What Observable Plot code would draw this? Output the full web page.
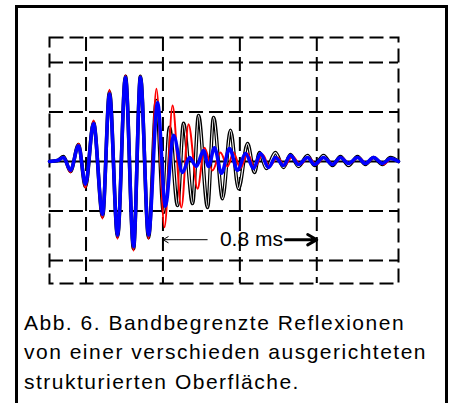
<!DOCTYPE html>
<html><head><meta charset="utf-8">
<script src="https://cdn.jsdelivr.net/npm/d3@7"></script>
<script src="https://cdn.jsdelivr.net/npm/@observablehq/plot@0.6"></script>
<style>
html,body{margin:0;padding:0;background:#fff;width:454px;height:403px;overflow:hidden;position:relative;font-family:"Liberation Sans",Arial,sans-serif;}
#frame{position:absolute;left:15px;top:5px;width:427px;height:430px;border:3px solid #000;border-bottom:none;}
#chart{position:absolute;left:0;top:0;}
#caption{position:absolute;left:24px;top:307.5px;font-size:21px;line-height:29.5px;letter-spacing:1.5px;color:#000;white-space:nowrap;}
</style></head><body>
<div id="frame"></div>
<div id="chart"></div>
<div id="caption">Abb. 6. Bandbegrenzte Reflexionen<br>von einer verschieden ausgerichteten<br>strukturierten Oberfläche.</div>
<script>
// time in ms, amplitude in grid divisions
const blueT=[0,0.042,0.073,0.109,0.151,0.187,0.229,0.276,0.312,0.354,0.395,0.437,0.473,0.515,0.562,0.603,0.645,0.692,0.728,0.764,0.801,0.827,0.858,0.894,0.936,0.978,1.019,1.061,1.097,1.139,1.175,1.217,1.253,1.295,1.342,1.378,1.425,1.472,1.513,1.555,1.602,1.643,1.685,1.732,1.773,1.815];
const blueV=[0,0.02,0.08,-0.18,0.32,-0.46,0.77,-1.07,1.37,-1.49,1.7,-1.72,1.7,-1.49,1.19,-0.91,0.53,-0.22,0.08,-0.1,0.22,-0.1,0.28,-0.24,0.26,-0.18,0.16,-0.14,0.16,-0.12,0.08,-0.08,0.12,-0.06,0.08,-0.06,0.08,-0.06,0.08,-0.04,0.08,-0.04,0.08,-0.04,0.06,0];
const redT=[0,0.042,0.073,0.109,0.151,0.187,0.229,0.276,0.312,0.354,0.395,0.437,0.473,0.515,0.556,0.598,0.64,0.686,0.723,0.77,0.806,0.848,0.889,0.926,0.957,0.993,1.03,1.066,1.108,1.144,1.186,1.222,1.264,1.305,1.347,1.388,1.43,1.477,1.518,1.56,1.607,1.648,1.69,1.737,1.778,1.815];
const redV=[0,0.02,0.08,-0.22,0.36,-0.53,0.83,-1.15,1.45,-1.56,1.74,-1.8,1.72,-1.56,1.47,-1.33,1.13,-0.93,0.75,-0.55,0.28,-0.18,0.18,-0.1,0.18,-0.14,0.16,-0.12,0.14,-0.1,0.08,-0.08,0.1,-0.06,0.08,-0.06,0.08,-0.06,0.08,-0.04,0.08,-0.04,0.08,-0.06,0.06,0];
const blackT=[0,0.042,0.073,0.109,0.151,0.187,0.229,0.276,0.312,0.354,0.395,0.437,0.473,0.515,0.556,0.593,0.624,0.666,0.697,0.744,0.775,0.822,0.853,0.9,0.941,0.983,1.03,1.066,1.092,1.128,1.175,1.217,1.253,1.295,1.342,1.378,1.425,1.472,1.513,1.555,1.602,1.643,1.685,1.732,1.773,1.815];
const blackV=[0,0.02,0.1,-0.2,0.34,-0.51,0.79,-1.11,1.41,-1.52,1.72,-1.76,1.72,-1.54,1.23,-1.03,0.69,-0.89,0.77,-0.85,0.93,-0.93,0.89,-0.75,0.63,-0.55,0.36,-0.22,0.18,-0.14,0.18,-0.12,0.14,-0.1,0.12,-0.08,0.12,-0.08,0.1,-0.08,0.1,-0.06,0.08,-0.06,0.08,0];
const gridX=[0.19,0.59,0.99,1.39];
const gridY=[-2,-1,1,2];
const xDomain=[0,1.815];
const yDomain=[-2.465,2.505];
// annotation: 0.8 ms span
const spanStart=0.59, spanEnd=1.39, spanLevel=-1.58;
const leftShaftEnd=0.82, rightShaftStart=1.227, labelX=1.05;
const label="0.8 ms";

const toRows=(T,V)=>T.map((t,i)=>({t,v:V[i]}));
const black=toRows(blackT,blackV), red=toRows(redT,redV), blue=toRows(blueT,blueV);
const dash="14,6";
const chart=Plot.plot({
  width:454,height:300,
  marginLeft:49,marginRight:56,marginTop:37,marginBottom:17,
  style:{background:"transparent",fontFamily:"Liberation Sans, Arial, sans-serif"},
  x:{domain:xDomain,axis:null},
  y:{domain:yDomain,axis:null},
  marks:[
    Plot.ruleX(gridX,{stroke:"#000",strokeWidth:2,strokeDasharray:dash}),
    Plot.ruleY(gridY,{stroke:"#000",strokeWidth:2,strokeDasharray:dash}),
    Plot.frame({stroke:"#000",strokeWidth:2,strokeDasharray:dash}),
    Plot.ruleY([0],{stroke:"#000",strokeWidth:2}),
    Plot.line(black,{x:"t",y:"v",stroke:"#000",strokeWidth:3.6,curve:"monotone-x"}),
    Plot.line(black,{x:"t",y:"v",stroke:"#fff",strokeWidth:1.2,curve:"monotone-x"}),
    Plot.line(red,{x:"t",y:"v",stroke:"#ff0000",strokeWidth:2,curve:"monotone-x"}),
    Plot.line(blue,{x:"t",y:"v",stroke:"#0000ff",strokeWidth:3.5,curve:"monotone-x"}),
    Plot.arrow([0],{x1:()=>leftShaftEnd,x2:()=>spanStart,y1:()=>spanLevel,y2:()=>spanLevel,stroke:"#000",strokeWidth:1,headLength:9}),
    Plot.arrow([0],{x1:()=>rightShaftStart,x2:()=>spanEnd,y1:()=>spanLevel,y2:()=>spanLevel,stroke:"#000",strokeWidth:3,headLength:9}),
    Plot.text([label],{x:()=>labelX,y:()=>spanLevel,text:d=>d,fontSize:21,fill:"#000",textAnchor:"middle",lineAnchor:"middle"})
  ]
});
document.getElementById("chart").appendChild(chart);
</script>
</body></html>
